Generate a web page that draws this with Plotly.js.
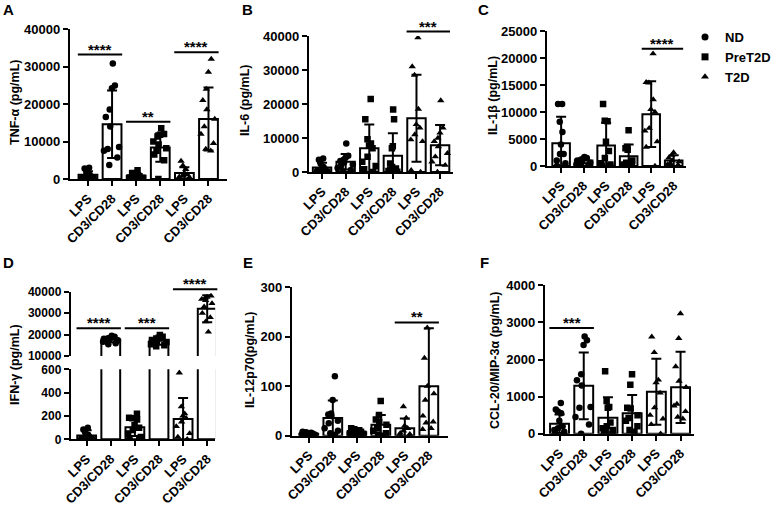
<!DOCTYPE html>
<html><head><meta charset="utf-8">
<script src="https://cdn.plot.ly/plotly-3.0.1.min.js"></script>
<style>html,body{margin:0;padding:0;background:#fff}#chart{width:776px;height:509px}</style>
</head><body><div id="chart"></div><script>
// ---------- DATA ----------
const groups = ['ND', 'PreT2D', 'T2D'];
const categories = ['LPS', 'CD3/CD28', 'LPS', 'CD3/CD28', 'LPS', 'CD3/CD28'];

// A: TNF-α
const tnfTitle = 'TNF-α (pg/mL)';
const tnfMean = [1100, 14600, 850, 8400, 1600, 16000];
const tnfSD = [950, 9000, 650, 3800, 1500, 8400];
const tnfPoints = [
  [3000, 2800, 1600, 1200, 900, 700, 500, 400, 300, 200, 100],
  [30800, 24900, 24200, 18500, 16500, 14000, 8500, 8000, 7500, 5700, 3700],
  [2300, 1600, 1300, 1000, 900, 700, 600, 400, 300, 200, 100],
  [13500, 12000, 11800, 11300, 10000, 9200, 8200, 7500, 6500, 5000, 0],
  [4800, 3600, 2600, 1600, 1200, 900, 600, 400, 200, 100],
  [32000, 28500, 24000, 21000, 18500, 16000, 14000, 12000, 9500, 8000, 7500]
];
const tnfSigPair = [0, 1, 2];
const tnfSigY = [33200, 15300, 33800];
const tnfSigText = ['****', '**', '****'];

// B: IL-6
const il6Title = 'IL-6 (pg/mL)';
const il6Mean = [1300, 3000, 7000, 4800, 15800, 7900];
const il6SD = [1400, 2300, 7000, 6600, 12800, 5900];
const il6Points = [
  [4000, 3600, 2500, 1500, 1000, 800, 500, 300, 200, 100, 0],
  [8400, 4800, 4200, 3600, 3200, 2800, 2200, 1800, 1200, 600, 200],
  [21500, 15500, 9600, 8400, 7800, 7000, 4500, 3000, 1800, 800, 0],
  [18400, 15500, 7600, 7000, 2500, 1500, 1000, 600, 300, 100, 0],
  [39500, 31000, 28500, 18500, 14000, 13000, 11000, 9500, 9000, 500, 0],
  [21000, 13000, 11500, 10000, 9000, 7500, 5500, 4500, 3000, 2000, 0]
];
const il6SigPair = [2];
const il6SigY = [41300];
const il6SigText = ['***'];

// C: IL-1β
const il1Title = 'IL-1β (pg/mL)';
const il1Mean = [4200, 1000, 3800, 1800, 9600, 1000];
const il1SD = [4900, 500, 4200, 2200, 6100, 1000];
const il1Points = [
  [11500, 11500, 8200, 6300, 4000, 2200, 2200, 1000, 500, 0, 0],
  [1650, 1500, 1400, 1200, 1000, 800, 600, 400, 300, 200, 100],
  [11500, 8400, 8300, 4500, 2800, 1500, 500, 300, 0, 0],
  [6600, 3500, 3300, 3000, 1000, 600, 300, 200, 100, 0],
  [20800, 15500, 15400, 12300, 10500, 10000, 7000, 6500, 4500, 3500, 0],
  [2500, 2000, 1500, 1000, 800, 500, 300, 200, 100]
];
const il1SigPair = [2];
const il1SigY = [21700];
const il1SigText = ['****'];

// D: IFN-γ (broken axis)
const ifnTitle = 'IFN-γ (pg/mL)';
const ifnMean = [32, 17600, 103, 17100, 175, 32000];
const ifnSD = [45, 1200, 75, 1800, 180, 6300];
const ifnPoints = [
  [100, 85, 60, 40, 30, 20, 15, 10, 5, 5, 0],
  [19500, 19000, 18500, 18300, 18000, 17700, 17400, 17000, 16600, 16000, 15500],
  [220, 185, 180, 170, 120, 100, 80, 50, 20, 10, 0],
  [19800, 19000, 18500, 18200, 17500, 17000, 16500, 16000, 15500, 15000, 14500],
  [570, 280, 220, 200, 180, 150, 110, 50, 20, 0],
  [38000, 37500, 37000, 36500, 36000, 34500, 33000, 30000, 28000, 26000, 21200]
];
const ifnSigPair = [0, 1, 2];
const ifnSigY = [22900, 22900, 41100];
const ifnSigText = ['****', '***', '****'];

// E: IL-12p70
const il12Title = 'IL-12p70(pg/mL)';
const il12Mean = [4, 36, 7, 22, 15, 100];
const il12SD = [3, 35, 5, 20, 20, 117];
const il12Points = [
  [8, 7, 6, 5, 4, 4, 3, 2, 1, 0],
  [120, 72, 45, 43, 40, 30, 25, 15, 10, 5, 2],
  [15, 13, 11, 9, 8, 6, 5, 4, 2, 0],
  [70, 42, 33, 28, 22, 15, 10, 5, 2, 0],
  [59, 36, 20, 15, 10, 5, 3, 2, 0],
  [218, 157, 100, 85, 72, 40, 28, 26, 15, 13]
];
const il12SigPair = [2];
const il12SigY = [229];
const il12SigText = ['**'];

// F: CCL-20/MIP-3α
const cclTitle = 'CCL-20/MIP-3α (pg/mL)';
const cclMean = [270, 1290, 430, 550, 1130, 1250];
const cclSD = [250, 900, 550, 490, 890, 960];
const cclPoints = [
  [830, 650, 600, 550, 350, 200, 150, 100, 50, 20, 0],
  [2620, 2520, 2390, 1600, 1440, 1300, 720, 700, 450, 250, 0],
  [1680, 880, 720, 700, 300, 200, 150, 100, 50, 0],
  [1600, 1320, 700, 680, 500, 420, 350, 200, 100, 50],
  [2610, 2190, 1450, 1380, 1100, 700, 500, 400, 250, 0],
  [3240, 2570, 1810, 1420, 1250, 800, 750, 600, 450, 400]
];
const cclSigPair = [0];
const cclSigY = [2850];
const cclSigText = ['***'];

// ---------- LAYOUT / STYLE ----------
const W = 776, H = 509;
const PX = v => v / W, PY = v => 1 - v / H;
const FONT = 'Arial, "Liberation Sans", Helvetica, sans-serif';
const symbols = ['circle', 'square', 'triangle-up'];
const TICK = 13;

const panels = [
  {letter: 'A', lp: [9, 9], title: tnfTitle, tp: [15, 102], mean: tnfMean, sd: tnfSD, pts: tnfPoints,
   sig: [tnfSigPair, tnfSigY, tnfSigText], xn: 1, xpx: [70, 228], t0: 88.3, dt: 24.2,
   ys: [{yn: 1, ypx: [179, 29], range: [0, 40000], dtick: 10000}]},
  {letter: 'B', lp: [248, 9], title: il6Title, tp: [246, 100], mean: il6Mean, sd: il6SD, pts: il6Points,
   sig: [il6SigPair, il6SigY, il6SigText], xn: 2, xpx: [310, 455], t0: 323.3, dt: 23.7,
   ys: [{yn: 2, ypx: [172, 36], range: [0, 40000], dtick: 10000}]},
  {letter: 'C', lp: [485, 9], title: il1Title, tp: [495, 96], mean: il1Mean, sd: il1SD, pts: il1Points,
   sig: [il1SigPair, il1SigY, il1SigText], xn: 3, xpx: [549, 689], t0: 563.3, dt: 22.6,
   ys: [{yn: 3, ypx: [166, 31], range: [0, 25000], dtick: 5000}]},
  {letter: 'D', lp: [9, 262], title: ifnTitle, tp: [15, 364], mean: ifnMean, sd: ifnSD, pts: ifnPoints,
   sig: [ifnSigPair, ifnSigY, ifnSigText], xn: 4, xpx: [71, 216], t0: 87, dt: 24.2,
   ys: [{yn: 4, ypx: [439.3, 369.3], range: [0, 600], dtick: 200, fs: 12},
        {yn: 7, ypx: [356, 291.7], range: [10000, 40000], dtick: 10000, upper: true, fs: 12}]},
  {letter: 'E', lp: [249, 262], title: il12Title, tp: [251, 360], mean: il12Mean, sd: il12SD, pts: il12Points,
   sig: [il12SigPair, il12SigY, il12SigText], xn: 5, xpx: [293, 450], t0: 310, dt: 24.1,
   ys: [{yn: 5, ypx: [435.7, 287.3], range: [0, 300], dtick: 100}]},
  {letter: 'F', lp: [486, 262], title: cclTitle, tp: [497, 360], mean: cclMean, sd: cclSD, pts: cclPoints,
   sig: [cclSigPair, cclSigY, cclSigText], xn: 6, xpx: [547, 697], t0: 561.7, dt: 24.3,
   ys: [{yn: 6, ypx: [433.7, 285.3], range: [0, 4000], dtick: 1000}]}
];

const traces = [];
const layout = {
  width: W, height: H, margin: {l: 0, r: 0, t: 0, b: 0},
  paper_bgcolor: '#fff', plot_bgcolor: 'rgba(0,0,0,0)',
  font: {family: FONT, size: 12, color: '#000', weight: 'bold'},
  barmode: 'overlay', boxmode: 'overlay',
  showlegend: true,
  legend: {x: PX(688), y: PY(22), xanchor: 'left', yanchor: 'top',
           font: {family: FONT, size: 13, color: '#000', weight: 'bold'},
           bgcolor: 'rgba(0,0,0,0)', tracegroupgap: 0, itemclick: false},
  annotations: [], shapes: []
};

const pos = categories.map((c, i) => i);
const axSuffix = n => (n === 1 ? '' : String(n));

function yToPaperP(p, v) {
  const ya = (p.ys.length > 1 && v > p.ys[0].range[1]) ? p.ys[1] : p.ys[0];
  const f = (v - ya.range[0]) / (ya.range[1] - ya.range[0]);
  return PY(ya.ypx[0] + f * (ya.ypx[1] - ya.ypx[0]));
}

panels.forEach(p => {
  const xs = axSuffix(p.xn);
  const r0 = (p.xpx[0] - p.t0) / p.dt, r1 = (p.xpx[1] - p.t0) / p.dt;
  const lowerY = p.ys[0];
  layout['xaxis' + xs] = {
    domain: [PX(p.xpx[0]), PX(p.xpx[1])], range: [r0, r1], anchor: 'y' + axSuffix(lowerY.yn),
    tickmode: 'array', tickvals: pos, ticktext: categories, tickangle: -45,
    ticks: 'outside', ticklen: 5, tickwidth: 2, tickcolor: '#000',
    showline: true, linewidth: 2, linecolor: '#000', showgrid: false, zeroline: false,
    tickfont: {family: FONT, size: TICK, color: '#000', weight: 'bold'}, fixedrange: true
  };
  p.ys.forEach(ya => {
    const ysfx = axSuffix(ya.yn);
    layout['yaxis' + ysfx] = {
      domain: [PY(ya.ypx[0]), PY(ya.ypx[1])], range: ya.range, anchor: 'x' + xs,
      tickmode: 'linear', tick0: ya.range[0], dtick: ya.dtick, tickformat: 'd',
      ticks: 'outside', ticklen: 5, tickwidth: 2, tickcolor: '#000',
      showline: true, linewidth: 2, linecolor: '#000', showgrid: false, zeroline: false,
      tickfont: {family: FONT, size: ya.fs || TICK, color: '#000', weight: 'bold'}, fixedrange: true
    };
    traces.push({
      type: 'bar', x: pos, y: p.mean, xaxis: 'x' + xs, yaxis: 'y' + ysfx, width: 0.78,
      marker: {color: '#fff', line: {color: '#000', width: 2}},
      error_y: {type: 'data', array: p.sd, visible: true, color: '#000', thickness: 2, width: 5},
      showlegend: false, hoverinfo: 'skip'
    });
    groups.forEach((g, gi) => {
      const xv = [], yv = [];
      [2 * gi, 2 * gi + 1].forEach(ci => {
        p.pts[ci].forEach(v => { xv.push(pos[ci]); yv.push(v); });
      });
      traces.push({
        type: 'box', x: xv, y: yv, xaxis: 'x' + xs, yaxis: 'y' + ysfx, name: g,
        boxpoints: 'all', jitter: 0.9, pointpos: 0, width: 0.78, whiskerwidth: 0,
        fillcolor: 'rgba(0,0,0,0)', line: {width: 0, color: 'rgba(0,0,0,0)'},
        marker: {symbol: symbols[gi], size: 6.5, color: '#000'},
        showlegend: false, hoverinfo: 'skip'
      });
    });
  });

  const xToPaper = v => PX(p.t0 + v * p.dt);
  const [pairs, sy, st] = p.sig;
  pairs.forEach((pr, k) => {
    const yv = yToPaperP(p, sy[k]);
    layout.shapes.push({type: 'line', xref: 'paper', yref: 'paper',
      x0: xToPaper(pos[2 * pr] - 0.42), x1: xToPaper(pos[2 * pr + 1] + 0.42), y0: yv, y1: yv,
      line: {color: '#000', width: 2}});
    layout.annotations.push({xref: 'paper', yref: 'paper', x: xToPaper((pos[2 * pr] + pos[2 * pr + 1]) / 2),
      y: yv, xanchor: 'center', yanchor: 'bottom', yshift: -5, showarrow: false, text: st[k],
      font: {family: FONT, size: 15, color: '#000', weight: 'bold'}});
  });

  layout.annotations.push({xref: 'paper', yref: 'paper', x: PX(p.tp[0]), y: PY(p.tp[1]),
    xanchor: 'center', yanchor: 'middle', textangle: -90, showarrow: false, text: p.title,
    font: {family: FONT, size: 12.5, color: '#000', weight: 'bold'}});
  layout.annotations.push({xref: 'paper', yref: 'paper', x: PX(p.lp[0]), y: PY(p.lp[1]),
    xanchor: 'center', yanchor: 'middle', showarrow: false, text: p.letter,
    font: {family: FONT, size: 15, color: '#000', weight: 'bold'}});
});

groups.forEach((g, gi) => {
  traces.push({type: 'scatter', mode: 'markers', x: [null], y: [null], xaxis: 'x', yaxis: 'y',
    name: g, marker: {symbol: symbols[gi], size: 7, color: '#000'}, showlegend: true, hoverinfo: 'skip'});
});

Plotly.newPlot('chart', traces, layout, {staticPlot: true, displayModeBar: false});
</script></body></html>
